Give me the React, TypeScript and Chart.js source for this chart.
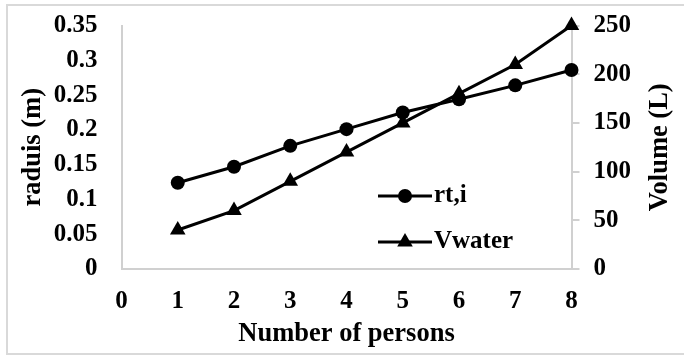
import React, { useEffect, useRef } from "react";
import { Chart, registerables } from "chart.js";

Chart.register(...registerables);

const persons = [1, 2, 3, 4, 5, 6, 7, 8];
const radiusValues = [0.124, 0.147, 0.177, 0.201, 0.225, 0.244, 0.264, 0.286];
const volumeValues = [40, 60, 90, 120, 150, 180, 210, 250];
const seriesNames = ["rt,i", "Vwater"];
const xTitle = "Number of persons";
const yLeftTitle = "raduis (m)";
const yRightTitle = "Volume (L)";

const FONT = "'Liberation Serif', 'Times New Roman', serif";
const AXIS_COLOR = "#d0d0d0";

const framePlugin = {
  id: "frame",
  beforeDraw(chart: any) {
    const ctx = chart.ctx;
    ctx.save();
    ctx.strokeStyle = "#d9d9d9";
    ctx.lineWidth = 2;
    ctx.beginPath();
    ctx.moveTo(684, 5);
    ctx.lineTo(7, 5);
    ctx.lineTo(7, 354);
    ctx.lineTo(684, 354);
    ctx.stroke();
    ctx.restore();
  },
};

const extrasPlugin = {
  id: "extras",
  afterDraw(chart: any) {
    const ctx = chart.ctx;
    const area = chart.chartArea;
    ctx.save();
    ctx.fillStyle = "#000";
    ctx.font = `bold 26.5px ${FONT}`;
    ctx.textAlign = "center";
    ctx.textBaseline = "middle";
    ctx.translate(660, (area.top + area.bottom) / 2);
    ctx.rotate(-Math.PI / 2);
    ctx.fillText(yRightTitle, 0, 0);
    ctx.restore();

    const rows = [196, 242];
    chart.data.datasets.forEach((ds: any, i: number) => {
      const y = rows[i];
      const x0 = 378;
      const x1 = 432;
      const cx = (x0 + x1) / 2;
      ctx.save();
      ctx.strokeStyle = "#000";
      ctx.fillStyle = "#000";
      ctx.lineWidth = 3;
      ctx.beginPath();
      ctx.moveTo(x0, y);
      ctx.lineTo(x1, y);
      ctx.stroke();
      ctx.beginPath();
      if (ds.pointStyle === "triangle") {
        const r = ds.pointRadius;
        for (let k = 0; k < 3; k++) {
          const a = (k * 2 * Math.PI) / 3;
          const px = cx + Math.sin(a) * r;
          const py = y - Math.cos(a) * r;
          if (k === 0) ctx.moveTo(px, py);
          else ctx.lineTo(px, py);
        }
        ctx.closePath();
      } else {
        ctx.arc(cx, y, ds.pointRadius, 0, Math.PI * 2);
      }
      ctx.fill();
      ctx.font = `bold 25px ${FONT}`;
      ctx.textAlign = "left";
      ctx.textBaseline = "middle";
      ctx.fillText(ds.label, x1 + 2, y);
      ctx.restore();
    });
  },
};

export default function App() {
  const ref = useRef<HTMLCanvasElement | null>(null);

  useEffect(() => {
    document.body.style.margin = "0";
    const canvas = ref.current;
    if (!canvas) return;
    const chart = new Chart(canvas, {
      type: "line",
      data: {
        datasets: [
          {
            label: seriesNames[0],
            data: persons.map((p, i) => ({ x: p, y: radiusValues[i] })),
            yAxisID: "y",
            borderColor: "#000",
            backgroundColor: "#000",
            borderWidth: 3,
            pointStyle: "circle",
            pointRadius: 7,
            pointBackgroundColor: "#000",
            pointBorderColor: "#000",
            pointBorderWidth: 0,
            tension: 0,
            clip: false,
          },
          {
            label: seriesNames[1],
            data: persons.map((p, i) => ({ x: p, y: volumeValues[i] })),
            yAxisID: "y1",
            borderColor: "#000",
            backgroundColor: "#000",
            borderWidth: 3,
            pointStyle: "triangle",
            pointRadius: 9,
            pointBackgroundColor: "#000",
            pointBorderColor: "#000",
            pointBorderWidth: 0,
            tension: 0,
            clip: false,
          },
        ],
      },
      options: {
        animation: false,
        responsive: true,
        maintainAspectRatio: false,
        layout: { padding: { top: 25.5, left: 0, right: 0, bottom: 0 }, autoPadding: false },
        plugins: {
          legend: { display: false },
          tooltip: { enabled: false },
        },
        scales: {
          x: {
            type: "linear",
            min: 0,
            max: 8,
            grid: { display: false, drawTicks: false },
            border: { display: true, color: AXIS_COLOR, width: 2 },
            ticks: {
              stepSize: 1,
              padding: 18,
              color: "#000",
              font: { family: FONT, size: 25, weight: "bold" },
            },
            title: {
              display: true,
              text: xTitle,
              color: "#000",
              font: { family: FONT, size: 26.5, weight: "bold" },
              padding: { top: 0, bottom: 6 },
            },
            afterFit(scale: any) {
              scale.height = 87;
              scale.paddingLeft = 0;
              scale.paddingRight = 0;
            },
          },
          y: {
            type: "linear",
            position: "left",
            min: 0,
            max: 0.35,
            grid: { display: false, drawTicks: false },
            border: { display: true, color: AXIS_COLOR, width: 2 },
            ticks: {
              stepSize: 0.05,
              autoSkip: false,
              padding: 24,
              color: "#000",
              font: { family: FONT, size: 25, weight: "bold" },
              callback: (v: any) => String(Number(Number(v).toFixed(2))),
            },
            title: {
              display: true,
              text: yLeftTitle,
              color: "#000",
              font: { family: FONT, size: 26.5, weight: "bold" },
              padding: { top: 17, bottom: 0 },
            },
            afterFit(scale: any) {
              scale.width = 121.5;
              scale.paddingTop = 0;
              scale.paddingBottom = 0;
            },
          },
          y1: {
            type: "linear",
            position: "right",
            min: 0,
            max: 250,
            grid: {
              display: true,
              drawOnChartArea: false,
              drawTicks: true,
              tickLength: 8,
              color: AXIS_COLOR,
              lineWidth: 2,
            },
            border: { display: true, color: AXIS_COLOR, width: 2 },
            ticks: {
              stepSize: 50,
              autoSkip: false,
              padding: 14,
              color: "#000",
              font: { family: FONT, size: 25, weight: "bold" },
            },
            afterFit(scale: any) {
              scale.width = 684 - 571.5;
              scale.paddingTop = 0;
              scale.paddingBottom = 0;
            },
          },
        },
      },
      plugins: [framePlugin, extrasPlugin],
    });
    return () => chart.destroy();
  }, []);

  return (
    <div style={{ position: "relative", width: 684, height: 356 }}>
      <canvas ref={ref} />
    </div>
  );
}
